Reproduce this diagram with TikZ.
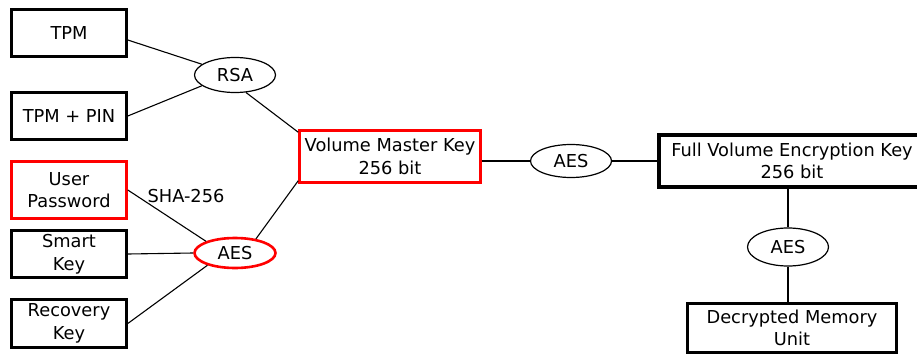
\documentclass[tikz,border=0pt]{standalone}
\usepackage{fontspec}
\setmainfont{DejaVu Sans}
\usetikzlibrary{shapes.geometric}

\begin{document}
\begin{tikzpicture}[x=1pt, y=-1pt,
    font=\fontsize{17.8}{22.5}\selectfont,
    keybox/.style={draw, line width=2.6pt, align=center, inner sep=0pt,
      minimum width=115pt, minimum height=47pt},
    bigbox/.style={keybox, line width=3.6pt},
    cipher/.style={draw, ellipse, line width=1.2pt, inner sep=0pt,
      minimum width=81pt, minimum height=35pt},
    link/.style={line width=1.1pt}]
      \useasboundingbox (0,0) rectangle (917,356);

      % Protectors
      \node (tpm)      at (69,33)    [keybox] {TPM};
      \node (tpmpin)   at (69,116)   [keybox] {TPM + PIN};
      \node (userpw)   at (69,190)   [keybox, draw=red, minimum height=57pt] {User\\Password};
      \node (smartkey) at (69,254)   [keybox] {Smart\\Key};
      \node (recovery) at (69,323.5) [keybox, minimum height=48pt] {Recovery\\Key};

      % Ciphers
      \node (rsa)  at (235,75)  [cipher] {RSA};
      \node (aesu) at (235,253) [cipher, draw=red, line width=2.6pt, minimum height=30pt] {AES};
      \node (aesm) at (571,161) [cipher, minimum height=33pt] {AES};
      \node (aesl) at (788,247) [cipher, minimum height=38pt] {AES};

      % Keys
      \node (vmk)  at (390,156.5) [keybox, draw=red, minimum width=181pt, minimum height=52pt] {Volume Master Key\\256 bit};
      \node (fvek) at (792,161)   [bigbox, minimum width=266pt, minimum height=52pt] {Full Volume Encryption Key\\256 bit};
      \node (dmu)  at (792,328)   [bigbox, minimum width=209pt, minimum height=49pt] {Decrypted Memory\\Unit};

      \node (sha) at (186,196) {SHA-256};

      % Lines
      \draw[link] ([yshift=-7pt]tpm.east) -- (rsa.162);
      \draw[link] (tpmpin.east) -- (rsa.198);
      \draw[link] (rsa.302) -- ([yshift=-3pt]vmk.north west);
      \draw[link] (userpw.east) -- (aesu.158);
      \draw[link] (smartkey.east) -- (aesu.west);
      \draw[link] (recovery.east) -- (aesu.204);
      \draw[link] (aesu.34) -- ([yshift=3pt]vmk.south west);
      \draw[link] (vmk.east |- aesm.west) -- (aesm.west);
      \draw[link] (aesm.east) -- (fvek.west |- aesm.east);
      \draw[link] (fvek.south -| aesl.north) -- (aesl.north);
      \draw[link] (aesl.south) -- (dmu.north -| aesl.south);
\end{tikzpicture}
\end{document}
